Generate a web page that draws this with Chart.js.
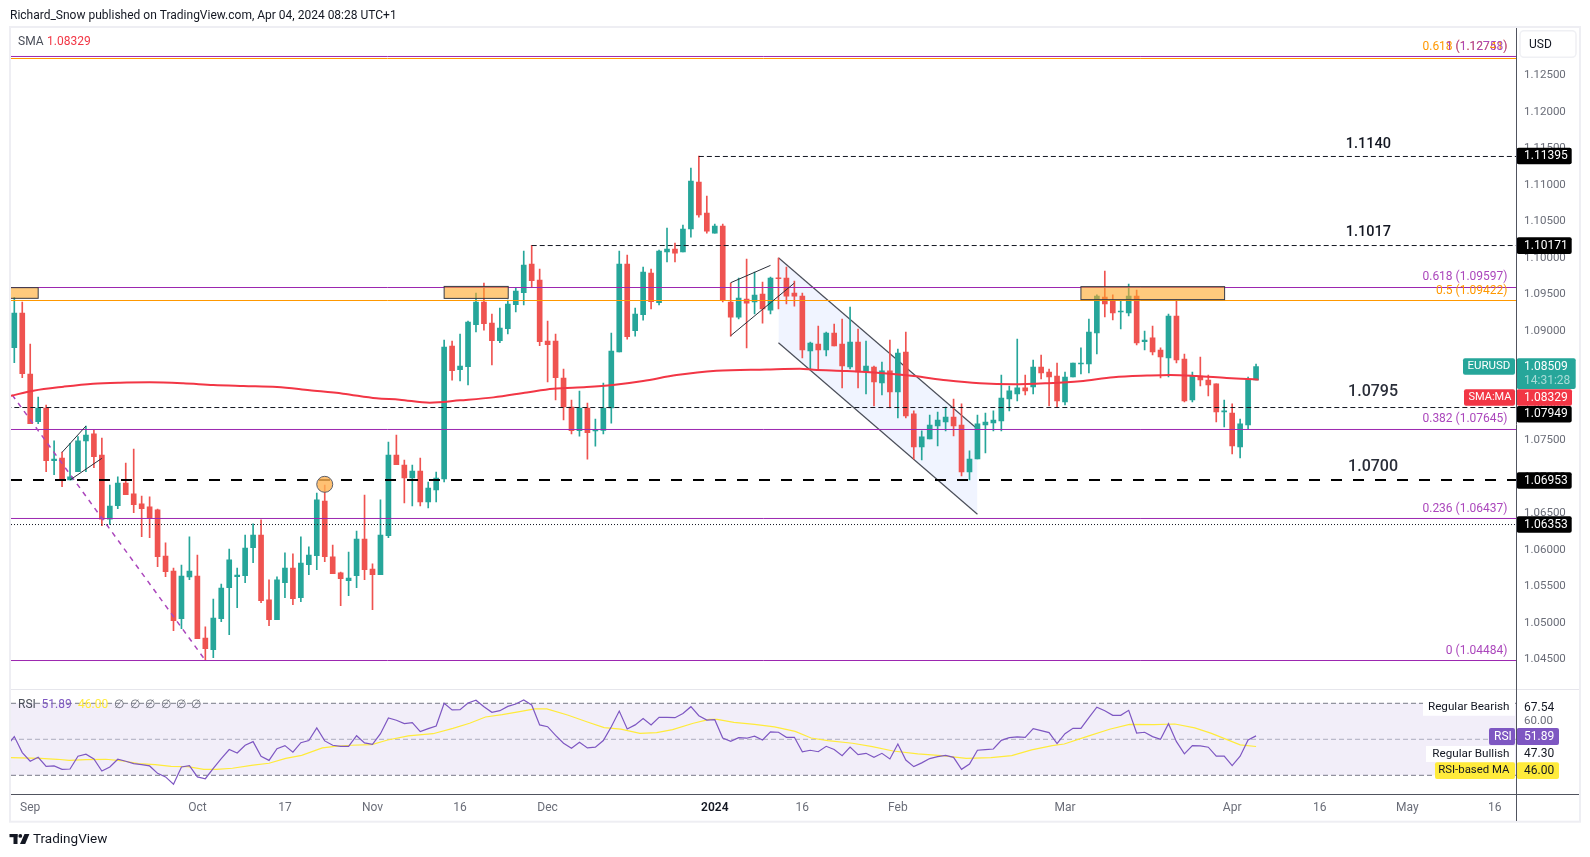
<!DOCTYPE html>
<html>
<head>
<meta charset="utf-8">
<title>EURUSD</title>
<script src="https://cdn.jsdelivr.net/npm/chart.js@4"></script>
<style>
    html, body { margin: 0; padding: 0; background: #fff; }
    canvas { display: block; }
</style>
</head>
<body>
<canvas id="chart" width="1590" height="857"></canvas>
<script>
// Daily candles, index 0 = first bar on screen
const opens = [
    1.08767,1.09242,1.08406,1.07754,1.07941,1.07219,1.07256,1.06954,1.07069,1.07489,
    1.07585,1.07297,1.06416,1.06603,1.06913,1.06763,1.06626,1.06585,1.06544,1.05913,
    1.05708,1.05055,1.05626,1.05639,1.0479,1.0463,1.05055,1.0548,1.0563,1.05644,
    1.06028,1.06201,1.05311,1.05041,1.05548,1.05749,1.05343,1.05795,1.05918,1.06667,
    1.059,1.05681,1.05576,1.05644,1.06146,1.05735,1.05658,1.06192,1.07297,1.0716,
    1.06982,1.07077,1.06653,1.06817,1.06968,1.08789,1.08465,1.08506,1.09081,1.09392,
    1.09104,1.08862,1.09027,1.09355,1.0952,1.09912,1.09693,1.08858,1.08858,1.08351,
    1.07954,1.07629,1.0794,1.07625,1.07634,1.0794,1.08707,1.09912,1.08999,1.09218,
    1.09789,1.09383,1.10077,1.10118,1.10077,1.10392,1.11036,1.10611,1.10337,1.10433,
    1.09392,1.09186,1.09433,1.09392,1.09502,1.09282,1.09721,1.09721,1.09515,1.09475,
    1.08722,1.08817,1.08735,1.08968,1.08817,1.08502,1.08845,1.08434,1.08502,1.08283,
    1.08448,1.0816,1.08708,1.07859,1.07407,1.07516,1.07694,1.07749,1.07817,1.07708,
    1.07064,1.07242,1.07708,1.07735,1.07763,1.08064,1.08133,1.08215,1.08228,1.08502,
    1.08434,1.08379,1.08023,1.08365,1.08543,1.08543,1.08968,1.09461,1.0942,1.09256,
    1.09242,1.09475,1.08849,1.089,1.08735,1.08626,1.09201,1.08612,1.0805,1.08379,
    1.08324,1.0827,1.07886,1.07872,1.07407,1.07708,1.08324
];
const highs = [
    1.09457,1.09393,1.08817,1.08091,1.07982,1.07489,1.07338,1.07457,1.07548,1.07694,
    1.07639,1.0753,1.06886,1.06996,1.07187,1.07379,1.06735,1.06722,1.06557,1.06092,
    1.05749,1.0579,1.06174,1.05927,1.04941,1.05324,1.0553,1.06009,1.05749,1.06201,
    1.06352,1.06407,1.05585,1.05626,1.05955,1.05941,1.06174,1.06037,1.06776,1.06886,
    1.06064,1.05694,1.05968,1.06256,1.06749,1.05804,1.06681,1.07475,1.07571,1.07228,
    1.0716,1.07255,1.06927,1.07064,1.08871,1.08858,1.08954,1.09132,1.09515,1.09652,
    1.09228,1.0931,1.09419,1.09584,1.10091,1.10168,1.09844,1.09132,1.08954,1.08474,
    1.0805,1.08173,1.08008,1.07789,1.08282,1.08967,1.10091,1.10036,1.0931,1.09871,
    1.09844,1.10104,1.10406,1.102,1.10447,1.11227,1.11392,1.10844,1.1046,1.1046,
    1.09652,1.09721,1.09981,1.09803,1.09666,1.09734,1.09995,1.09871,1.0968,1.09516,
    1.08845,1.09064,1.08982,1.09091,1.0916,1.09324,1.09023,1.08858,1.08516,1.08571,
    1.08872,1.08749,1.08982,1.079,1.07626,1.07845,1.07886,1.07954,1.08064,1.07996,
    1.07352,1.07845,1.07872,1.079,1.08393,1.08242,1.08886,1.08393,1.08598,1.08667,
    1.08475,1.08557,1.08434,1.08557,1.08763,1.0916,1.09489,1.09817,1.09489,1.09406,
    1.09639,1.09557,1.08995,1.09064,1.08763,1.09228,1.0942,1.0868,1.08434,1.08639,
    1.08393,1.0827,1.0805,1.07996,1.0779,1.08365,1.08543
];
const lows = [
    1.08562,1.08356,1.07726,1.07726,1.07069,1.07028,1.06863,1.06954,1.07069,1.07069,
    1.07123,1.06329,1.06347,1.06562,1.06754,1.06507,1.06178,1.06165,1.05767,1.0563,
    1.04891,1.04918,1.05589,1.04781,1.04484,1.04521,1.05014,1.04836,1.05206,1.05548,
    1.05822,1.05274,1.04959,1.05041,1.05343,1.05247,1.05288,1.05658,1.05726,1.05836,
    1.05671,1.05233,1.0537,1.0548,1.05589,1.05178,1.05658,1.06165,1.07165,1.06639,
    1.06598,1.06598,1.06571,1.06653,1.06927,1.08323,1.0831,1.08255,1.08981,1.09008,
    1.08529,1.08835,1.08954,1.09255,1.09351,1.09597,1.08794,1.08296,1.0805,1.07776,
    1.07584,1.07556,1.07241,1.07419,1.07584,1.07734,1.08707,1.08885,1.08926,1.09145,
    1.09296,1.09351,1.0994,1.0994,1.10077,1.10282,1.10556,1.10337,1.10337,1.09392,
    1.08926,1.09159,1.08762,1.09228,1.09104,1.09228,1.09296,1.09365,1.09337,1.08626,
    1.08461,1.08461,1.08653,1.0879,1.08215,1.08475,1.08215,1.08133,1.07968,1.08119,
    1.07941,1.07804,1.07804,1.07242,1.07228,1.07516,1.0742,1.07626,1.07557,1.07009,
    1.06954,1.07242,1.07324,1.07626,1.07626,1.079,1.08037,1.08119,1.08133,1.08338,
    1.07968,1.07954,1.07982,1.08365,1.08406,1.0842,1.0868,1.09187,1.09146,1.09023,
    1.09201,1.08804,1.08735,1.08667,1.08352,1.08365,1.08557,1.08023,1.08023,1.08242,
    1.08105,1.07749,1.0768,1.07311,1.07256,1.07653,1.08324
];
const closes = [
    1.09242,1.08411,1.07726,1.07941,1.07219,1.07242,1.06968,1.06996,1.07489,1.07571,
    1.07274,1.06416,1.06598,1.06913,1.06754,1.06617,1.06562,1.06434,1.05904,1.05699,
    1.05028,1.05639,1.05708,1.04781,1.04644,1.05064,1.05475,1.05859,1.05653,1.06023,
    1.06201,1.05302,1.05041,1.05585,1.05749,1.05329,1.05817,1.05927,1.06681,1.05904,
    1.05671,1.05603,1.05612,1.06146,1.05726,1.05658,1.06201,1.07297,1.07165,1.06982,
    1.07077,1.06653,1.06845,1.06982,1.08775,1.08451,1.08515,1.09118,1.09392,1.09095,
    1.08862,1.09036,1.09365,1.09543,1.09899,1.09684,1.08849,1.08808,1.08355,1.07954,
    1.07629,1.0794,1.07602,1.07643,1.0794,1.08721,1.09912,1.08917,1.09228,1.09803,
    1.09396,1.10091,1.10118,1.10063,1.10392,1.11049,1.10584,1.10364,1.10433,1.0941,
    1.09186,1.09447,1.09378,1.09488,1.09296,1.09721,1.09711,1.09474,1.09474,1.08735,
    1.08831,1.08735,1.08968,1.0879,1.08516,1.08845,1.08434,1.08516,1.08297,1.08448,
    1.0816,1.08694,1.07831,1.07407,1.07544,1.07708,1.07776,1.07817,1.07694,1.07064,
    1.07242,1.07722,1.07749,1.07776,1.08078,1.08174,1.08215,1.08174,1.08502,1.0842,
    1.08365,1.08037,1.08365,1.08557,1.08557,1.08982,1.09475,1.09365,1.09242,1.09269,
    1.09475,1.08831,1.08872,1.08708,1.08639,1.09201,1.08598,1.08037,1.08379,1.08324,
    1.08256,1.07886,1.079,1.0742,1.07722,1.08333,1.08509
];

// 200 SMA, read at these bar positions
const smaBars = [-0.5,2.4,6.2,9.9,13.3,17,21.2,25,28.8,33,37.1,41.3,45.5,48.4,52.2,56,60.2,64.4,67.7,71.9,75.2,79,83.2,88.2,94.5,98.7,100.4,104.6,108.8,113,117.1,121.3,125.5,129.7,133.9,138.1,142.3,145.2,148.5,152.3,155.7,156.3];
const smaValues = [1.08105,1.08178,1.08233,1.08274,1.08288,1.08292,1.08279,1.08256,1.08242,1.08228,1.08183,1.08137,1.08073,1.08055,1.08013,1.08045,1.08086,1.08154,1.08205,1.08227,1.08255,1.0831,1.08392,1.08451,1.08469,1.08479,1.08466,1.08447,1.0842,1.08379,1.0832,1.08279,1.08265,1.08279,1.08306,1.08361,1.08384,1.08393,1.08379,1.08352,1.08333,1.08329];

// RSI per bar, first value belongs to the bar just left of the screen
const rsiValues = [
    45.9,51.5,42.6,37.8,40.0,35.0,35.2,33.3,33.5,40.6,41.7,
    39.1,32.4,34.6,38.9,37.8,36.5,35.9,35.2,31.1,29.1,
    25.0,34.6,35.4,29.1,28.1,33.9,39.3,44.3,42.4,46.7,
    48.7,40.6,38.3,44.8,46.5,42.8,48.1,49.3,56.3,49.1,
    46.7,46.1,46.1,52.0,48.0,47.2,53.1,61.9,60.6,58.7,
    59.3,54.3,55.9,57.4,70.0,66.3,66.5,70.2,71.7,68.1,
    65.0,65.9,68.3,69.6,71.9,69.1,58.0,57.0,52.2,47.8,
    45.0,48.3,45.2,45.6,49.3,57.0,65.7,55.7,58.0,61.5,
    58.0,62.2,62.2,62.0,64.3,68.1,63.1,60.7,60.9,50.7,
    48.9,50.9,50.6,51.7,49.6,54.1,53.9,51.1,51.1,43.0,
    43.9,43.1,46.1,44.3,40.9,45.7,41.5,42.2,40.0,42.2,
    39.1,47.4,38.5,34.8,36.9,39.3,40.4,41.1,40.0,33.3,
    36.3,43.9,44.3,44.6,49.4,50.9,51.3,51.1,55.9,54.8,
    53.7,47.6,53.1,56.1,56.1,62.0,67.8,65.9,63.3,63.3,
    66.1,53.5,53.9,51.5,50.0,58.7,48.7,41.9,46.5,46.3,
    45.6,40.6,40.7,35.4,40.6,49.6,51.89
];
const rsiMaBars = [-0.5,3.3,5.4,6.9,9,11.5,13.6,15.6,17.7,19.7,21.8,23.8,25.4,27.4,30,32,34.1,36.1,38.7,40.3,42.3,44.9,46.9,49.5,52.6,55.1,57.2,59.2,61.3,63.3,65.4,66.9,69.5,72,74.1,76.2,78.6,80.7,82.7,85.3,87.3,88.3,90.4,93,95.5,98.1,100.1,102.2,105.3,107.8,110.4,113.5,116.5,119.6,122.7,125.3,127.8,130.4,131.9,135,137.6,140.1,143.2,145.8,148.3,150.4,154,156];
const rsiMaValues = [39.8,39.4,38.9,38.3,38.7,38.9,38,36.5,35.9,35,34.8,33.3,33.3,33.9,35.7,36.7,39.4,41.1,45.2,46.1,46.7,47,49.6,51.9,53.1,56.1,58.9,62.4,63.7,65.2,66.9,66.9,63.5,59.6,56.5,55.6,53.3,53.7,55.4,58.9,61.1,61.1,59.4,58.3,56.9,54.4,50.7,49.3,47.8,45.9,43.5,41.9,40.9,39.4,39.8,40.9,44.1,46.5,47.4,51.9,55.6,58.3,58.1,58.5,56.3,53.3,46.9,46];
const rsiBands = [70, 50, 30];

// Axis ticks
const priceTicks = [1.125,1.12,1.115,1.11,1.105,1.1,1.095,1.09,1.085,1.08,1.075,1.07,1.065,1.06,1.055,1.05,1.045];
const rsiTicks = [60];
const timeTickBars = [2,23,34,45,56,67,88,99,111,132,153,164,175,186];
const timeTickLabels = ['Sep','Oct','17','Nov','16','Dec','2024','16','Feb','Mar','Apr','16','May','16'];

// Fibonacci levels, captions as printed in the picture
const fibPurple = [1.12756, 1.09591, 1.07646, 1.06427, 1.04481];
const fibPurpleLabels = ['1 (1.12758)', '0.618 (1.09597)', '0.382 (1.07645)', '0.236 (1.06437)', '0 (1.04484)'];
const fibOrange = [1.12728, 1.09413];
const fibOrangeLabels = ['0.618 (1.12741)', '0.5 (1.09422)'];
const fibPurpleLabelPrices = [1.12885, 1.09731, 1.07785, 1.06560, 1.04615];
const fibOrangeLabelPrices = [1.12885, 1.09548];

// Drawn levels: price and the bar where each starts
const dashedLevels = [1.11386, 1.10166, 1.07947];
const dashedStarts = [86, 65, -1];
const thickLevel = 1.06954;
const dottedLevel = 1.06344;
const levelTexts = ['1.1140', '1.1017', '1.0795', '1.0700'];
const levelTextBars = [170.1, 170.1, 170.7, 170.7];
const levelTextPrices = [1.11558, 1.10343, 1.08163, 1.07136];

// Trend lines, [bar, price, bar, price]
const fibTrend = [-1, 1.08230, 24, 1.04484];
const flagLines = [
    [6, 1.07333, 9, 1.07694],
    [7, 1.06954, 11, 1.07251],
    [90, 1.09657, 95, 1.09894],
    [90, 1.08931, 98, 1.09652]
];
const channelUpper = [96, 1.09999, 121, 1.07653];
const channelLower = [96, 1.08835, 121, 1.06484];

// Orange zones, [bar, bar, top, bottom]
const zones = [
    [-1, 3, 1.09589, 1.09443],
    [54, 62.05, 1.09606, 1.09442],
    [134, 152.05, 1.09603, 1.09425]
];
const circleBar = 39;
const circlePrice = 1.06895;

const UP = '#26a69a';
const DOWN = '#ef5350';
const PURPLE = '#9c27b0';
const ORANGE = '#ff9800';
const TEXT_PURPLE = '#ab47bc';
const FONT = 'Roboto, sans-serif';

const X_MIN = -0.415;
const X_MAX = 188.72;

const candleColors = closes.map((c, i) => c >= opens[i] ? UP : DOWN);
const pairs = (xs, ys) => xs.map((x, i) => ({ x, y: ys[i] }));
const segment = (l) => [{ x: l[0], y: l[1] }, { x: l[2], y: l[3] }];
const fullLine = (v) => [{ x: X_MIN, y: v }, { x: X_MAX, y: v }];

const lineSet = (data, color, width, dash, order, yAxisID = 'y') => ({
    type: 'line', data, yAxisID, order,
    borderColor: color, borderWidth: width, borderDash: dash || [],
    pointRadius: 0, fill: false, tension: 0
});

const datasets = [
    // Channel fill and its edges
    { ...lineSet(segment(channelUpper), '#4a4e59', 1.2, null, 20), fill: '+1', backgroundColor: 'rgba(41,98,255,0.07)' },
    lineSet(segment(channelLower), '#4a4e59', 1.2, null, 19),
    // Candles
    {
        type: 'bar', order: 12, yAxisID: 'y', grouped: false, barThickness: 1,
        data: highs.map((h, i) => ({ x: i, y: [lows[i], h] })),
        backgroundColor: candleColors, borderWidth: 0, borderSkipped: false
    },
    {
        type: 'bar', order: 11, yAxisID: 'y', grouped: false, barThickness: 5, minBarLength: 1,
        data: opens.map((o, i) => ({ x: i, y: [o, closes[i]] })),
        backgroundColor: candleColors, borderWidth: 0, borderSkipped: false
    },
    // Levels
    ...fibOrange.map((v) => lineSet(fullLine(v), ORANGE, 1, null, 8)),
    ...fibPurple.map((v) => lineSet(fullLine(v), PURPLE, 1, null, 7)),
    ...dashedLevels.map((v, i) => lineSet([{ x: dashedStarts[i], y: v }, { x: X_MAX, y: v }], '#131722', 1, [5, 3], 6)),
    lineSet(fullLine(thickLevel), '#000', 2, [11, 11], 6),
    lineSet(fullLine(dottedLevel), '#131722', 1, [1, 2], 6),
    lineSet(segment(fibTrend), '#ab47bc', 1.5, [5, 5], 6),
    ...flagLines.map((l) => lineSet(segment(l), '#2a2e39', 1, null, 5)),
    // SMA
    { ...lineSet(pairs(smaBars, smaValues), '#f23645', 2, null, 4), cubicInterpolationMode: 'monotone' },
    // Circle marker
    {
        type: 'line', order: 1, yAxisID: 'y', showLine: false,
        data: [{ x: circleBar, y: circlePrice }],
        pointRadius: 8, pointBackgroundColor: 'rgba(255,177,80,0.8)',
        pointBorderColor: '#5b5f6b', pointBorderWidth: 1
    },
    // RSI pane
    { ...lineSet(fullLine(rsiBands[0]), '#787b86', 1, [5, 3], 9, 'yRsi'), fill: { value: rsiBands[2] }, backgroundColor: 'rgba(126,87,194,0.1)' },
    lineSet(fullLine(rsiBands[1]), '#b2b5be', 1, [5, 3], 9, 'yRsi'),
    lineSet(fullLine(rsiBands[2]), '#787b86', 1, [5, 3], 9, 'yRsi'),
    lineSet(pairs(rsiMaBars, rsiMaValues), '#ffeb3b', 1.2, null, 3, 'yRsi'),
    lineSet(rsiValues.map((v, i) => ({ x: i - 1, y: v })), '#7e57c2', 1.2, null, 2, 'yRsi')
];

// Filled box with text, used for the axis and pane tags
function tag(ctx, x0, y0, x1, y1, fill, text, color, textX, align = 'left', radius = 2, size = 12) {
    ctx.fillStyle = fill;
    ctx.beginPath();
    ctx.roundRect(x0, y0, x1 - x0, y1 - y0, radius);
    ctx.fill();
    if (text) label(ctx, text, textX, (y0 + y1) / 2, color, size + 'px ' + FONT, align);
}

function label(ctx, text, x, y, color, font, align = 'left') {
    ctx.font = font;
    ctx.fillStyle = color;
    ctx.textAlign = align;
    ctx.textBaseline = 'middle';
    ctx.fillText(text, x, y);
}

const overlay = {
    id: 'overlay',
    afterDatasetsDraw(chart) {
        const { ctx, scales: { x, y } } = chart;
        ctx.save();

        // Orange zones
        ctx.save();
        ctx.beginPath();
        ctx.rect(x.left, y.top, x.right - x.left, y.bottom - y.top);
        ctx.clip();
        zones.forEach((z) => {
            const left = x.getPixelForValue(z[0]);
            const right = x.getPixelForValue(z[1]);
            const top = y.getPixelForValue(z[2]);
            const bottom = y.getPixelForValue(z[3]);
            ctx.fillStyle = 'rgba(255,167,38,0.6)';
            ctx.fillRect(left, top, right - left, bottom - top);
            ctx.strokeStyle = '#363a45';
            ctx.lineWidth = 1;
            ctx.strokeRect(left, top, right - left, bottom - top);
        });
        ctx.restore();

        // Fib level captions
        const fibFont = '12px ' + FONT;
        fibOrange.forEach((v, i) => label(ctx, fibOrangeLabels[i], 1507.5, y.getPixelForValue(fibOrangeLabelPrices[i]), ORANGE, fibFont, 'right'));
        fibPurple.forEach((v, i) => label(ctx, fibPurpleLabels[i], 1507.5, y.getPixelForValue(fibPurpleLabelPrices[i]), TEXT_PURPLE, fibFont, 'right'));

        // Level captions, the lower two are printed larger
        levelTexts.forEach((t, i) => {
            const big = i > 1;
            label(ctx, t, x.getPixelForValue(levelTextBars[i]), y.getPixelForValue(levelTextPrices[i]),
                big ? '#2a2e39' : '#131722', '500 ' + (big ? 16 : 14.5) + 'px ' + FONT, 'center');
        });

        // Price tags on the axis
        const blackTags = [['1.11395', 156], ['1.10171', 245.6], ['1.07949', 414.3], ['1.06953', 480.5], ['1.06353', 524.5]];
        blackTags.forEach(([text, py]) => {
            tag(ctx, 1516.7, py - 8.3, 1571.7, py + 8.3, '#000', text, '#fff', 1524);
        });
        tag(ctx, 1463, 358.3, 1515, 374.7, UP, 'EURUSD', '#fff', 1467.5, 'left', 2, 11.5);
        tag(ctx, 1516.7, 358.3, 1575.7, 389, UP);
        label(ctx, '1.08509', 1524, 366.5, '#fff', '12px ' + FONT);
        label(ctx, '14:31:28', 1524, 381, '#a8dcd7', '12px ' + FONT);
        tag(ctx, 1464, 389.3, 1515, 405.7, '#f23645', 'SMA:MA', '#fff', 1468.5, 'left', 2, 11);
        tag(ctx, 1516.7, 389.3, 1572, 405.7, '#f23645', '1.08329', '#fff', 1524);

        // RSI pane tags
        tag(ctx, 1423, 699.3, 1515, 715.7, '#fff', 'Regular Bearish', '#131722', 1509.5, 'right', 0, 11.7);
        label(ctx, '67.54', 1524, 707.7, '#131722', '12px ' + FONT);
        tag(ctx, 1489, 728, 1515, 745, '#7e57c2', 'RSI', '#fff', 1494);
        tag(ctx, 1516.7, 728, 1559, 745, '#7e57c2', '51.89', '#fff', 1524);
        tag(ctx, 1426, 746, 1515, 762, '#fff', 'Regular Bullish', '#131722', 1509.5, 'right', 0, 11.7);
        label(ctx, '47.30', 1524, 753.5, '#131722', '12px ' + FONT);
        tag(ctx, 1435, 762.3, 1515, 779, '#ffeb3b', 'RSI-based MA', '#131722', 1509.5, 'right', 2, 11.4);
        tag(ctx, 1516.7, 762.3, 1559, 779, '#ffeb3b', '46.00', '#131722', 1524);

        // Pane legends
        label(ctx, 'SMA', 18, 41.7, '#4a4e59', '12px ' + FONT);
        label(ctx, '1.08329', 47, 41.7, '#f23645', '12px ' + FONT);
        label(ctx, 'RSI', 18, 704.5, '#4a4e59', '12px ' + FONT);
        label(ctx, '51.89', 41.5, 704.5, '#7e57c2', '12px ' + FONT);
        label(ctx, '46.00', 78, 704.5, '#ffeb3b', '12px ' + FONT);
        [114, 130, 145, 161, 176, 191].forEach((px) => label(ctx, '∅', px, 704.5, '#6a6d78', '12px ' + FONT));

        ctx.restore();
    },
    afterDraw(chart) {
        const { ctx } = chart;
        ctx.save();

        // Pane frame and separators
        ctx.strokeStyle = '#eeeef3';
        ctx.lineWidth = 2;
        ctx.strokeRect(10, 27, 1570, 794.7);
        ctx.strokeStyle = '#e6e6ec';
        ctx.lineWidth = 1;
        ctx.beginPath();
        ctx.moveTo(11, 689.5);
        ctx.lineTo(1579, 689.5);
        ctx.stroke();

        // Axis lines
        ctx.strokeStyle = '#50535e';
        ctx.beginPath();
        ctx.moveTo(1516.5, 28);
        ctx.lineTo(1516.5, 821);
        ctx.moveTo(11, 794.5);
        ctx.lineTo(1579, 794.5);
        ctx.stroke();

        // Currency button
        ctx.fillStyle = '#fff';
        ctx.strokeStyle = '#eff0f4';
        ctx.lineWidth = 1.5;
        ctx.beginPath();
        ctx.roundRect(1520, 30.7, 56, 26.6, 4);
        ctx.fill();
        ctx.stroke();
        label(ctx, 'USD', 1529, 44.5, '#131722', '12px ' + FONT);

        // Publisher line
        label(ctx, 'Richard_Snow published on TradingView.com, Apr 04, 2024 08:28 UTC+1', 10, 15.5, '#131722', '12px ' + FONT);

        // TradingView mark
        ctx.fillStyle = '#131722';
        ctx.fillRect(9.5, 834, 8, 3.2);
        ctx.fillRect(13.5, 834, 4, 10);
        ctx.beginPath();
        ctx.arc(20.3, 835.9, 1.9, 0, Math.PI * 2);
        ctx.fill();
        ctx.beginPath();
        ctx.moveTo(24.5, 834);
        ctx.lineTo(29.4, 834);
        ctx.lineTo(25.2, 844);
        ctx.lineTo(20, 844);
        ctx.closePath();
        ctx.fill();
        label(ctx, 'TradingView', 33, 839.5, '#131722', '13.5px ' + FONT);

        ctx.restore();
    }
};

new Chart(document.getElementById('chart').getContext('2d'), {
    type: 'bar',
    data: { datasets },
    plugins: [overlay],
    options: {
        responsive: false,
        animation: false,
        layout: { padding: { left: 11, top: 28, right: 10, bottom: 35 } },
        plugins: {
            legend: { display: false },
            tooltip: { enabled: false }
        },
        scales: {
            x: {
                type: 'linear',
                min: X_MIN,
                max: X_MAX,
                offset: false,
                grid: { display: false, offset: false, drawTicks: false },
                border: { display: false },
                afterBuildTicks: (axis) => { axis.ticks = timeTickBars.map((value) => ({ value })); },
                afterFit: (axis) => { axis.height = 28; },
                ticks: {
                    autoSkip: false,
                    maxRotation: 0,
                    padding: 7,
                    color: (c) => c.tick && c.tick.value === 88 ? '#131722' : '#6a6d78',
                    font: (c) => ({ family: FONT, size: 12, weight: c.tick && c.tick.value === 88 ? '600' : '400' }),
                    callback: (v) => timeTickLabels[timeTickBars.indexOf(v)]
                }
            },
            y: {
                type: 'linear',
                position: 'right',
                stack: 'panes',
                stackWeight: 661,
                min: 1.04091,
                max: 1.13146,
                grid: { display: false, drawTicks: false },
                border: { display: false },
                afterBuildTicks: (axis) => { axis.ticks = priceTicks.map((value) => ({ value })); },
                afterFit: (axis) => { axis.width = 63.5; },
                ticks: {
                    autoSkip: false,
                    padding: 7.5,
                    color: '#6a6d78',
                    font: { family: FONT, size: 11.5 },
                    callback: (v) => v.toFixed(5)
                }
            },
            yRsi: {
                type: 'linear',
                position: 'right',
                stack: 'panes',
                stackWeight: 105,
                min: 19.61,
                max: 77.94,
                grid: { display: false, drawTicks: false },
                border: { display: false },
                afterBuildTicks: (axis) => { axis.ticks = rsiTicks.map((value) => ({ value })); },
                afterFit: (axis) => { axis.width = 63.5; },
                ticks: {
                    autoSkip: false,
                    padding: 7.5,
                    color: '#6a6d78',
                    font: { family: FONT, size: 11.5 },
                    callback: (v) => v.toFixed(2)
                }
            }
        }
    }
});
</script>
</body>
</html>
